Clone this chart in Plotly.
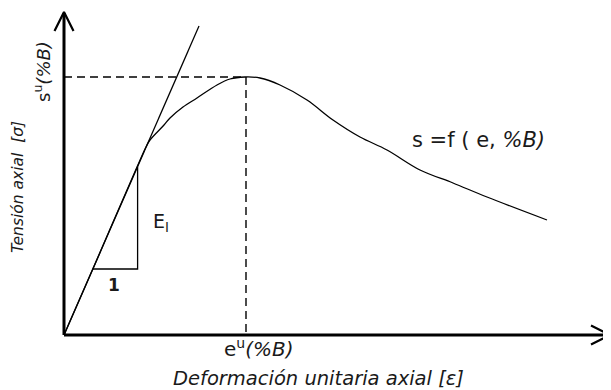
import plotly.graph_objects as go

# Curve sigma = f(epsilon, %B) (arbitrary units)
strain = [0.0, 3.1, 7.3, 8.2, 8.6, 10.0, 10.6, 11.9, 13.3, 15.3, 16.6, 18.1,
          19.6, 21.6, 24.3, 26.9, 29.6, 32.3, 35.6, 38.9, 42.3, 48.3]
stress = [0.0, 7.1, 16.8, 18.8, 19.5, 21.0, 21.7, 22.8, 23.7, 25.0, 25.6, 25.8,
          25.7, 25.0, 23.5, 21.5, 19.8, 18.5, 16.5, 15.2, 13.8, 11.5]

# Initial tangent (E_I) line end
tangent_strain = [0.0, 13.5]
tangent_stress = [0.0, 30.9]

# slope triangle
tri_strain = [2.88, 7.36, 7.36]
tri_stress = [6.6, 6.6, 16.85]

# ultimate point
eps_u = 18.2
sig_u = 25.8

# axes extents
x_axis_end = 54.5
y_axis_end = 32.2

INK = "#1a1a1a"
FONT = "DejaVu Sans"

fig = go.Figure()

# axes
fig.add_trace(go.Scatter(x=[0, x_axis_end], y=[0, 0], mode="lines",
                         line=dict(color="black", width=3), hoverinfo="skip"))
fig.add_trace(go.Scatter(x=[0, 0], y=[0, y_axis_end], mode="lines",
                         line=dict(color="black", width=3), hoverinfo="skip"))
# arrowheads (open chevrons)
ah_len, ah_half = 1.8, 0.95
fig.add_trace(go.Scatter(x=[x_axis_end - ah_len, x_axis_end + 0.1, x_axis_end - ah_len],
                         y=[ah_half, 0, -ah_half], mode="lines",
                         line=dict(color="black", width=2.2), hoverinfo="skip"))
fig.add_trace(go.Scatter(x=[-ah_half, 0, ah_half],
                         y=[y_axis_end - ah_len, y_axis_end + 0.1, y_axis_end - ah_len], mode="lines",
                         line=dict(color="black", width=2.2), hoverinfo="skip"))

# dashed guides
fig.add_trace(go.Scatter(x=[0, eps_u], y=[sig_u, sig_u], mode="lines",
                         line=dict(color="black", width=1.4, dash="8px,5px"), hoverinfo="skip"))
fig.add_trace(go.Scatter(x=[eps_u, eps_u], y=[sig_u, 0], mode="lines",
                         line=dict(color="black", width=1.4, dash="8px,5px"), hoverinfo="skip"))

# tangent
fig.add_trace(go.Scatter(x=tangent_strain, y=tangent_stress, mode="lines",
                         line=dict(color="black", width=1.3), hoverinfo="skip"))
# triangle
fig.add_trace(go.Scatter(x=tri_strain, y=tri_stress, mode="lines",
                         line=dict(color="black", width=1.3), hoverinfo="skip"))
# curve
fig.add_trace(go.Scatter(x=strain, y=stress, mode="lines",
                         line=dict(color="black", width=1.3, shape="spline", smoothing=1.0),
                         hoverinfo="skip"))

ann = []
ann.append(dict(x=41.4, y=19.5, text="s =f ( e, <i>%B)</i>", font=dict(size=21)))
ann.append(dict(x=9.7, y=11.3, text="E<sub>I</sub>", font=dict(size=19)))
ann.append(dict(x=5.0, y=5.0, text="<b>1</b>", font=dict(size=17)))
ann.append(dict(x=19.5, y=-1.3, text="e<sup>u</sup><i>(%B)</i>", font=dict(size=20)))
ann.append(dict(x=-2.2, y=26.3, text="s<sup>u</sup><i>(%B)</i>", font=dict(size=18), textangle=-90))
ann.append(dict(x=-4.6, y=14.8, text="<i>Tensión axial  [σ]</i>", font=dict(size=15.5), textangle=-90))
ann.append(dict(x=25.4, y=-4.3, text="<i>Deformación unitaria axial [ε]</i>", font=dict(size=19.5)))
for a in ann:
    a.update(showarrow=False, xref="x", yref="y")
    a["font"].update(family=FONT, color=INK)
fig.update_layout(annotations=ann)

# page has an 8px body margin: figure drawn at (8, 8), so size and ranges account for it
fig.update_layout(
    width=603, height=382,
    margin=dict(l=0, r=0, t=0, b=0),
    paper_bgcolor="white", plot_bgcolor="white",
    showlegend=False,
    xaxis=dict(range=[-5.6, 54.7], visible=False, fixedrange=True),
    yaxis=dict(range=[-5.5, 32.7], visible=False, fixedrange=True),
)

fig.write_html("out.html")
